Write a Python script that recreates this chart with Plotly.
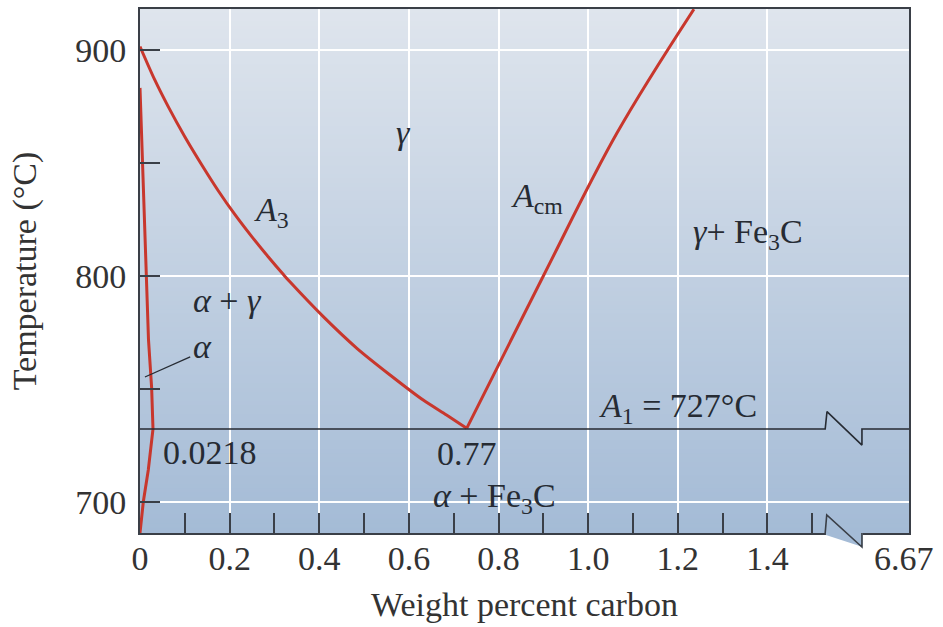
import plotly.graph_objects as go

# ---------------- data ----------------
a3_x = [0.000, 0.033, 0.063, 0.100, 0.138, 0.175, 0.212, 0.249, 0.286, 0.321,
        0.335, 0.409, 0.484, 0.558, 0.632, 0.684, 0.729]
a3_t = [901.5, 886.7, 874.9, 861.6, 849.1, 837.6, 827.1, 817.5, 808.5, 800.4,
        797.3, 782.0, 768.0, 756.2, 745.1, 738.5, 732.6]

acm_x = [0.729, 0.900, 1.064, 1.236]
acm_t = [732.6, 800.0, 863.1, 918.0]

alpha_x = [0.0, 0.007, 0.015, 0.019, 0.026, 0.029, 0.0185, 0.0074, 0.0]
alpha_t = [883.2, 842.5, 800.0, 771.7, 750.4, 732.3, 714.2, 700.1, 686.3]

A1_T = 732.3
X_MAX = 1.716
T_MIN, T_MAX = 686.3, 918.1
BREAK_X0, BREAK_X1 = 1.529, 1.611

x_ticks = [0, 0.2, 0.4, 0.6, 0.8, 1.0, 1.2, 1.4]
x_ticktext = ["0", "0.2", "0.4", "0.6", "0.8", "1.0", "1.2", "1.4"]
x_minor = [0.1, 0.3, 0.5, 0.7, 0.9, 1.1, 1.3, 1.5]
y_ticks = [700, 800, 900]
y_minor = [750, 850]
end_label = "6.67"
end_label_x = 1.705

labels = [
    ("<i>γ</i>", 0.588, 863.3),
    ("<i>A</i><sub>3</sub>", 0.294, 828.5),
    ("<i>α</i> + <i>γ</i>", 0.195, 789.0),
    ("<i>α</i>", 0.140, 769.0),
    ("0.0218", 0.156, 722.1),
    ("<i>A</i><sub>cm</sub>", 0.885, 834.5),
    ("<i>γ</i>+ Fe<sub>3</sub>C", 1.357, 818.6),
    ("<i>A</i><sub>1</sub> = 727°C", 1.201, 741.5),
    ("0.77", 0.729, 721.5),
    ("<i>α</i> + Fe<sub>3</sub>C", 0.792, 701.6),
]
leader_x = [0.011, 0.112]
leader_t = [755.3, 764.2]

# ---------------- style ----------------
FONT = "Liberation Serif, Times New Roman, serif"
FS = 34
RED = "#c8372d"
INK = "#262b33"
AXC = "#3a3f47"
TOP = (223, 229, 237)
BOT = (164, 187, 214)


def px(x):
    return x / X_MAX


def py(t):
    return (t - T_MIN) / (T_MAX - T_MIN)


def mix(f):
    return "rgb(%d,%d,%d)" % tuple(round(TOP[i] * (1 - f) + BOT[i] * f) for i in range(3))


fig = go.Figure()

fig.add_trace(go.Scatter(x=alpha_x, y=alpha_t, mode="lines",
                         line=dict(color=RED, width=3), hoverinfo="skip"))
fig.add_trace(go.Scatter(x=a3_x, y=a3_t, mode="lines", line_shape="spline",
                         line=dict(color=RED, width=3, smoothing=0.8), hoverinfo="skip"))
fig.add_trace(go.Scatter(x=acm_x, y=acm_t, mode="lines", line_shape="spline",
                         line=dict(color=RED, width=3, smoothing=1.0), hoverinfo="skip"))
fig.add_trace(go.Scatter(x=leader_x, y=leader_t, mode="lines",
                         line=dict(color=INK, width=1.3), hoverinfo="skip"))

# A1 line with break
zig_dt = 7.7
fig.add_trace(go.Scatter(
    x=[0, BREAK_X0, BREAK_X0 + 0.004, BREAK_X1, BREAK_X1, X_MAX],
    y=[A1_T, A1_T, A1_T + zig_dt, A1_T - zig_dt + 0.6, A1_T, A1_T],
    mode="lines", line=dict(color=INK, width=1.6), hoverinfo="skip"))

shapes = []
# gradient background
N = 120
for i in range(N):
    f = (i + 0.5) / N
    shapes.append(dict(type="rect", xref="paper", yref="paper", layer="below",
                       x0=0, x1=1, y0=1 - (i + 1) / N, y1=1 - i / N + 0.002,
                       fillcolor=mix(f), line=dict(width=0)))

# bottom axis break
b0, b1 = px(BREAK_X0), px(BREAK_X1)
zb_up = 18 / 524
zb_dn = -14 / 524
shapes.append(dict(type="path", xref="paper", yref="paper", layer="above",
                   path="M %f,%f L %f,%f L %f,%f L %f,%f Z" % (
                       b0 + 0.001, 0.006, b1 + 0.001, 0.006, b1 + 0.001, zb_dn, b0 + 0.001, -0.004),
                   fillcolor=mix(1.0), line=dict(width=0)))
shapes.append(dict(type="path", xref="paper", yref="paper", layer="above",
                   path="M %f,0 L %f,%f L %f,%f L %f,0" % (
                       b0, b0 + 0.002, zb_up, b1, zb_dn, b1),
                   line=dict(color=AXC, width=1.6)))

annotations = []
for txt, x, t in labels:
    annotations.append(dict(text=txt, x=x, y=t, xref="x", yref="y", showarrow=False,
                            font=dict(family=FONT, size=FS, color=INK)))
annotations.append(dict(text=end_label, x=end_label_x, y=0, xref="x", yref="paper",
                        yanchor="top", yshift=-5, showarrow=False,
                        font=dict(family=FONT, size=FS, color="#333")))

fig.update_layout(
    width=943, height=627,
    margin=dict(l=140, r=34, t=9, b=94),
    paper_bgcolor="white", plot_bgcolor=mix(0.5),
    showlegend=False,
    shapes=shapes, annotations=annotations,
    font=dict(family=FONT, size=FS, color="#333"),
)
fig.update_xaxes(
    range=[0, X_MAX], tickmode="array", tickvals=x_ticks, ticktext=x_ticktext,
    ticks="inside", ticklen=20, tickwidth=2, tickcolor=AXC,
    showline=True, mirror=True, linecolor=AXC, linewidth=2,
    showgrid=True, gridcolor="white", gridwidth=1.5, zeroline=False,
    ticklabelstandoff=-6,
    minor=dict(tickmode="array", tickvals=x_minor, ticks="inside", ticklen=20,
               tickwidth=2, tickcolor=AXC, showgrid=False),
    title=dict(text="Weight percent carbon", standoff=16, font=dict(size=FS)),
    automargin=False, fixedrange=True,
)
fig.update_yaxes(
    range=[T_MIN, T_MAX], tickmode="array", tickvals=y_ticks,
    ticks="inside", ticklen=20, tickwidth=2, tickcolor=AXC,
    showline=True, mirror=True, linecolor=AXC, linewidth=2,
    showgrid=True, gridcolor="white", gridwidth=1.5, zeroline=False,
    ticklabelstandoff=5,
    minor=dict(tickmode="array", tickvals=y_minor, ticks="inside", ticklen=20,
               tickwidth=2, tickcolor=AXC, showgrid=False),
    title=dict(text="Temperature (°C)", standoff=28, font=dict(size=FS)),
    automargin=False, fixedrange=True,
)

fig.write_html("out.html", config=dict(displayModeBar=False))
